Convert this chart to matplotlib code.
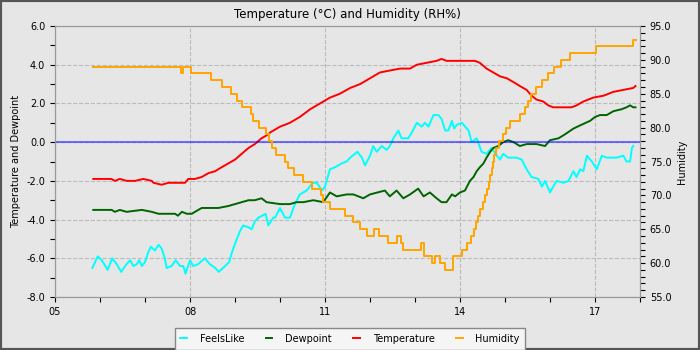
import numpy as np
import matplotlib

matplotlib.use('Agg')
import matplotlib.pyplot as plt
from matplotlib.patches import Rectangle
from matplotlib.ticker import MultipleLocator, FormatStrFormatter

# hours of the day and readings
temp_hours = [5.85, 6.25, 6.33, 6.44, 6.59, 6.78, 6.96, 7.15, 7.19, 7.37, 7.52, 7.67, 7.89, 7.96,
              8.11, 8.26, 8.41, 8.56, 8.70, 8.85, 9.00, 9.15, 9.30, 9.44, 9.59, 9.74, 9.78, 10.00,
              10.22, 10.44, 10.67, 10.89, 11.11, 11.33, 11.56, 11.78, 12.00, 12.22, 12.44, 12.67,
              12.89, 13.04, 13.26, 13.48, 13.59, 13.70, 14.00, 14.33, 14.44, 14.59, 14.74, 14.89,
              15.04, 15.19, 15.33, 15.48, 15.59, 15.70, 15.85, 15.96, 16.07, 16.30, 16.48, 16.59,
              16.74, 16.96, 17.19, 17.41, 17.63, 17.85, 17.90]
temperature = [-1.9, -1.9, -2.0, -1.9, -2.0, -2.0, -1.9, -2.0, -2.1, -2.2, -2.1, -2.1, -2.1, -1.9,
               -1.9, -1.8, -1.6, -1.5, -1.3, -1.1, -0.9, -0.6, -0.3, -0.1, 0.2, 0.4, 0.5, 0.8,
               1.0, 1.3, 1.7, 2.0, 2.3, 2.5, 2.8, 3.0, 3.3, 3.6, 3.7, 3.8,
               3.8, 4.0, 4.1, 4.2, 4.3, 4.2, 4.2, 4.2, 4.1, 3.8, 3.6, 3.4,
               3.3, 3.1, 2.9, 2.7, 2.4, 2.2, 2.1, 1.9, 1.8, 1.8, 1.8, 1.9,
               2.1, 2.3, 2.4, 2.6, 2.7, 2.8, 2.9]

dew_hours = [5.85, 6.26, 6.33, 6.44, 6.59, 6.93, 7.15, 7.30, 7.67, 7.73, 7.82, 7.93, 8.04, 8.11,
             8.26, 8.41, 8.63, 8.85, 9.00, 9.15, 9.30, 9.44, 9.59, 9.70, 10.00, 10.22, 10.37,
             10.52, 10.74, 10.96, 11.11, 11.26, 11.48, 11.63, 11.85, 12.00, 12.33, 12.44, 12.59,
             12.74, 12.89, 13.07, 13.19, 13.33, 13.48, 13.59, 13.70, 13.82, 13.89, 14.00, 14.11,
             14.22, 14.30, 14.37, 14.44, 14.52, 14.59, 14.67, 14.74, 14.85, 14.96, 15.07, 15.19,
             15.33, 15.48, 15.70, 15.89, 16.00, 16.19, 16.33, 16.52, 16.70, 16.89, 17.00, 17.11,
             17.26, 17.41, 17.59, 17.70, 17.78, 17.85, 17.90]
dewpoint = [-3.5, -3.5, -3.6, -3.5, -3.6, -3.5, -3.6, -3.7, -3.7, -3.8, -3.6, -3.7, -3.7, -3.6,
            -3.4, -3.4, -3.4, -3.3, -3.2, -3.1, -3.0, -3.0, -2.9, -3.1, -3.2, -3.2, -3.1,
            -3.1, -3.0, -3.1, -2.6, -2.8, -2.7, -2.7, -2.9, -2.7, -2.5, -2.8, -2.5,
            -2.9, -2.7, -2.4, -2.8, -2.6, -2.9, -3.1, -3.1, -2.7, -2.8, -2.6, -2.5,
            -2.0, -1.8, -1.5, -1.3, -1.1, -0.8, -0.5, -0.3, -0.2, 0.0, 0.1, 0.0,
            -0.2, -0.1, -0.1, -0.2, 0.1, 0.2, 0.4, 0.7, 0.9, 1.1, 1.3, 1.4,
            1.4, 1.6, 1.7, 1.8, 1.9, 1.8, 1.8]

feels_hours = [5.83, 5.95, 6.04, 6.17, 6.27, 6.37, 6.47, 6.59, 6.67, 6.74, 6.82, 6.87, 6.93, 7.00,
               7.07, 7.13, 7.22, 7.30, 7.37, 7.44, 7.48, 7.59, 7.68, 7.78, 7.85, 7.90, 8.00, 8.07,
               8.18, 8.33, 8.44, 8.56, 8.64, 8.78, 8.87, 8.93, 9.04, 9.11, 9.18, 9.30, 9.37, 9.44,
               9.52, 9.68, 9.74, 9.85, 9.89, 10.00, 10.11, 10.22, 10.33, 10.44, 10.59, 10.73,
               10.82, 10.93, 11.00, 11.11, 11.22, 11.37, 11.48, 11.56, 11.72, 11.82, 11.89, 12.00,
               12.07, 12.15, 12.26, 12.37, 12.44, 12.52, 12.63, 12.70, 12.85, 12.93, 13.04, 13.15,
               13.22, 13.30, 13.41, 13.52, 13.59, 13.67, 13.74, 13.82, 13.87, 13.93, 14.04, 14.19,
               14.26, 14.37, 14.48, 14.59, 14.70, 14.82, 14.89, 14.96, 15.07, 15.15, 15.26, 15.37,
               15.48, 15.59, 15.74, 15.82, 15.89, 16.00, 16.07, 16.15, 16.30, 16.41, 16.52, 16.59,
               16.67, 16.74, 16.82, 16.93, 17.04, 17.15, 17.26, 17.37, 17.48, 17.63, 17.70, 17.78,
               17.82, 17.85]
feels_like = [-6.5, -5.9, -6.1, -6.6, -6.0, -6.3, -6.7, -6.3, -6.1, -6.4, -6.3, -6.1, -6.4, -6.2,
              -5.7, -5.4, -5.6, -5.3, -5.5, -6.0, -6.5, -6.4, -6.1, -6.4, -6.4, -6.8, -6.1, -6.4,
              -6.3, -6.0, -6.3, -6.5, -6.7, -6.4, -6.2, -5.7, -5.0, -4.6, -4.3, -4.4, -4.5, -4.1,
              -3.9, -3.7, -4.3, -3.9, -3.9, -3.4, -3.9, -3.9, -3.2, -2.7, -2.5, -2.1,
              -2.1, -2.5, -2.3, -1.4, -1.3, -1.1, -1.0, -0.8, -0.5, -0.8, -1.2, -0.7,
              -0.2, -0.5, -0.2, -0.4, -0.2, 0.2, 0.6, 0.2, 0.2, 0.5, 1.0, 0.8,
              1.0, 0.8, 1.4, 1.4, 1.2, 0.6, 0.6, 1.1, 0.7, 0.9, 1.0, 0.6,
              0.0, 0.2, -0.5, -0.6, -0.3, -0.7, -0.9, -0.6, -0.8, -0.8, -0.8, -0.9,
              -1.4, -1.8, -1.9, -2.3, -2.0, -2.6, -2.3, -2.0, -2.1, -2.0, -1.5, -1.8,
              -1.4, -1.5, -0.7, -1.0, -1.4, -0.7, -0.8, -0.8, -0.8, -0.7, -1.0, -1.0,
              -0.3, -0.2]

hum_hours = [5.85, 7.80, 7.84, 8.02, 8.46, 8.72, 8.92, 9.05, 9.16, 9.35, 9.39, 9.53, 9.68, 9.76,
             9.82, 9.92, 10.10, 10.17, 10.30, 10.50, 10.72, 10.90, 10.96, 11.12, 11.45, 11.62,
             11.78, 11.93, 12.08, 12.20, 12.40, 12.60, 12.68, 12.74, 13.13, 13.20, 13.38, 13.45,
             13.55, 13.66, 13.85, 14.05, 14.15, 14.25, 14.30, 14.36, 14.41, 14.45, 14.50, 14.55,
             14.60, 14.64, 14.67, 14.70, 14.73, 14.76, 14.80, 14.86, 14.95, 15.02, 15.12, 15.33,
             15.45, 15.52, 15.58, 15.68, 15.82, 15.95, 16.08, 16.25, 16.45, 17.02, 17.84, 17.90]
humidity = [89, 88, 89, 88, 87, 86, 85, 84, 83, 82, 81, 80, 79, 78,
            77, 76, 75, 74, 73, 72, 71, 70, 69, 68, 67, 66,
            65, 64, 65, 64, 63, 64, 63, 62, 63, 61, 60, 61,
            60, 59, 61, 62, 63, 64, 65, 66, 67, 68, 69, 70,
            71, 72, 73, 74, 75, 76, 77, 78, 79, 80, 81, 82,
            83, 84, 85, 86, 87, 88, 89, 90, 91, 92, 93, 93]

hour_ticks = [5, 8, 11, 14, 17]

bg = '#e6e6e6'
fig = plt.figure(figsize=(7, 3.5), dpi=100, facecolor=bg)
ax = fig.add_axes([0.0786, 0.1514, 0.8357, 0.7743], facecolor=bg)
ax2 = ax.twinx()

l1, = ax.plot(feels_hours, feels_like, color='cyan', lw=1.4, label='FeelsLike')
l2, = ax.plot(dew_hours, dewpoint, color='darkgreen', lw=1.4, label='Dewpoint')
l3, = ax.plot(temp_hours, temperature, color='red', lw=1.4, label='Temperature')
ax.axhline(0, color='blue', alpha=0.5, lw=1.5)
l4, = ax2.plot(hum_hours, humidity, color='orange', lw=1.4, drawstyle='steps-post', label='Humidity')

ax.set_xlim(5, 18)
ax.set_ylim(-8, 6)
ax2.set_ylim(55, 95)
ax.set_xticks(hour_ticks)
ax.set_xticklabels([f'{h:02d}' for h in hour_ticks])
ax.xaxis.set_minor_locator(MultipleLocator(1))
ax.yaxis.set_major_locator(MultipleLocator(2))
ax.yaxis.set_minor_locator(MultipleLocator(1))
ax.yaxis.set_major_formatter(FormatStrFormatter('%.1f'))
ax2.yaxis.set_major_locator(MultipleLocator(5))
ax2.yaxis.set_minor_locator(MultipleLocator(1))
ax2.yaxis.set_major_formatter(FormatStrFormatter('%.1f'))

for a in (ax, ax2):
    a.tick_params(which='both', labelsize=7, length=3.5, width=0.8, color='black')
    for s in a.spines.values():
        s.set_color('#999999')
ax.grid(True, which='major', color='#bbbbbb', linestyle='--', lw=0.8)
ax.set_axisbelow(True)

ax.set_title('Temperature (°C) and Humidity (RH%)', fontsize=8.5, pad=6)
ax.set_ylabel('Temperature and Dewpoint', fontsize=7)
ax2.set_ylabel('Humidity', fontsize=7)

leg = fig.legend(handles=[l1, l2, l3, l4], loc='upper center', bbox_to_anchor=(0.5, 0.077),
                 ncol=4, fontsize=7, handlelength=0.7, handletextpad=1.3, columnspacing=2.2,
                 fancybox=False, framealpha=1, borderpad=0.6)
leg.get_frame().set_facecolor('#f5f5f5')
leg.get_frame().set_edgecolor('#888888')

fig.patches.append(Rectangle((0, 0), 1, 1, transform=fig.transFigure, fill=False,
                             edgecolor='#555555', linewidth=3))

fig.savefig('out.png', dpi=100, facecolor=bg)
